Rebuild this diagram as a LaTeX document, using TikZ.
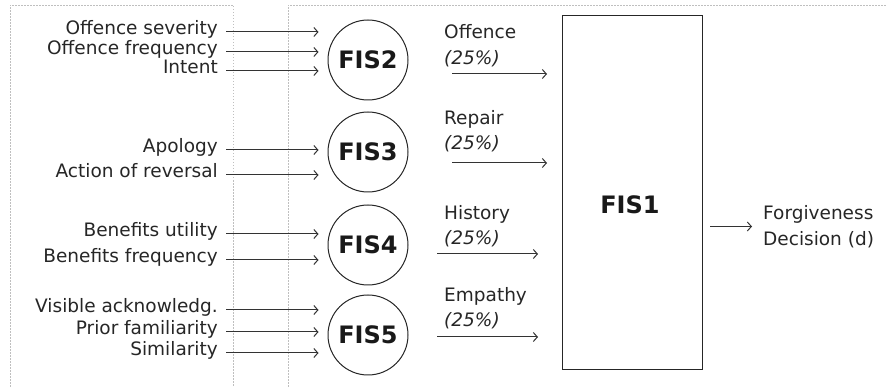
\documentclass[tikz,border=0pt]{standalone}
\usepackage{fontspec}
\setmainfont{DejaVu Sans}
\usetikzlibrary{arrows.meta}
\begin{document}
\begin{tikzpicture}[x=1pt,y=-1pt,
  txt/.style={font=\fontsize{18.5}{25.5}\selectfont, text=black!85, inner sep=0pt},
  inlab/.style={txt, anchor=east, text height=12pt, text depth=6pt, inner xsep=8pt},
  rlab/.style={txt, align=left, anchor=base west},
  fis/.style={circle, draw=black!85, line width=1pt, minimum size=80pt, inner sep=0pt,
    font=\fontsize{24}{28}\selectfont\bfseries, text=black!90},
  arr/.style={-{Straight Barb[length=4pt,width=9pt]}, draw=black!80, line width=1pt},
  frame/.style={draw=black!25, line width=0.6pt, dash pattern=on 1.5pt off 1.5pt}
]
\useasboundingbox (0,0) rectangle (887,387);
% dashed frames
\draw[frame] (10,387) -- (10,5) -- (233,5) -- (233,387);
\draw[frame] (288,387) -- (288,5) -- (887,5);
% fuzzy inference systems
\node[fis] (fis2) at (368,60) {FIS2};
\node[fis] (fis3) at (368,152) {FIS3};
\node[fis] (fis4) at (368,245) {FIS4};
\node[fis] (fis5) at (368,335) {FIS5};
% inputs
\node[inlab] (i1) at (226,32) {Offence severity};
\node[inlab] (i2) at (226,52) {Offence frequency};
\node[inlab] (i3) at (226,71) {Intent};
\node[inlab] (i4) at (226,150) {Apology};
\node[inlab] (i5) at (226,175) {Action of reversal};
\node[inlab] (i6) at (226,234) {Benefits utility};
\node[inlab] (i7) at (226,260) {Benefits frequency};
\node[inlab] (i8) at (226,310) {Visible acknowledg.};
\node[inlab] (i9) at (226,332) {Prior familiarity};
\node[inlab] (i10) at (226,353) {Similarity};
\foreach \i/\f in {i1/fis2,i2/fis2,i3/fis2,i4/fis3,i5/fis3,i6/fis4,i7/fis4,i8/fis5,i9/fis5,i10/fis5}
  \draw[arr, shorten >=9pt] (\i.east) -- (\i.east -| \f.west);
% FIS1
\node[draw=black!85, line width=1.3pt, minimum width=140pt, minimum height=354pt,
  anchor=north west, inner sep=0pt] (fis1) at (562,15) {};
\node[font=\fontsize{24}{28}\selectfont\bfseries, text=black!90] (fis1t) at (630,205) {FIS1};
% intermediate labels and arrows (base = last line)
\node[rlab] (l1) at (444,64.5) {Offence\\\textit{(25\%)}};
\node[rlab] (l2) at (444,150) {Repair\\\textit{(25\%)}};
\node[rlab] (l3) at (444,245) {History\\\textit{(25\%)}};
\node[rlab] (l4) at (444,327) {Empathy\\\textit{(25\%)}};
\coordinate (a1) at (452,74);
\coordinate (a2) at (452,163);
\coordinate (a3) at (437,254);
\coordinate (a4) at (437,337);
\draw[arr, shorten >=15pt] (a1) -- (a1 -| fis1.west);
\draw[arr, shorten >=15pt] (a2) -- (a2 -| fis1.west);
\draw[arr, shorten >=24pt] (a3) -- (a3 -| fis1.west);
\draw[arr, shorten >=24pt] (a4) -- (a4 -| fis1.west);
% output
\node[txt, align=left, anchor=west] (out) at (763,226.5) {Forgiveness\\Decision (d)};
\draw[arr, shorten <=7pt, shorten >=11pt] (fis1.east |- out.west) -- (out.west);
\end{tikzpicture}
\end{document}
